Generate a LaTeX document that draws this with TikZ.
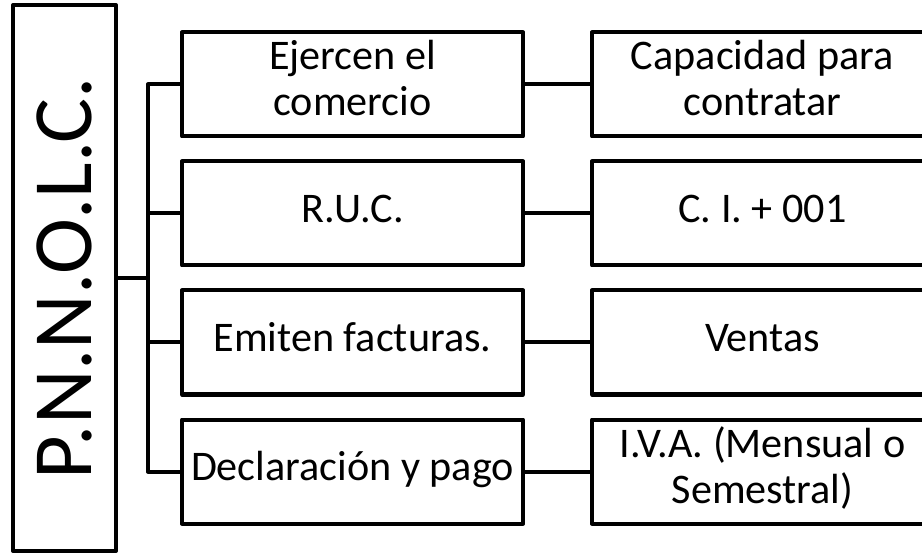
\documentclass[tikz,border=0pt]{standalone}
\usepackage{fontspec}
\setmainfont{Carlito}
\usepackage{tikz}
\usetikzlibrary{shapes.geometric, arrows}
\tikzstyle{recNode} = [rectangle, minimum width=8.525cm, minimum height=2.6cm, align=center, line join=round, line width=0.1cm, draw=black, font=\fontsize{30}{32.7}\selectfont, execute at begin node=\strut, execute at end node=\strut]
\tikzstyle{sideNode} = [rectangle, minimum width=2.575cm, minimum height=13.65cm, line join=round, line width=0.1cm, draw=black, font=\fontsize{60}{64}\selectfont]
\tikzstyle{link} = [line width=0.1cm, line join=round, draw=black]

\begin{document}
\begin{tikzpicture}[node distance=3.225cm]
        \node (pnnolc) [sideNode] at (0,0) {\rotatebox{90}{P.N.N.O.L.C.}};
        \useasboundingbox (pnnolc.center) ++(-1.6125,6.95) rectangle ++(23.05,-13.75);
        \node (ejercen) [recNode, right of=pnnolc, xshift=3.975cm, yshift=4.8375cm] {Ejercen el\\comercio};
        \node (ruc) [recNode, below of=ejercen] {R.U.C.};
        \node (emiten) [recNode, below of=ruc] {Emiten facturas.};
        \node (declara) [recNode, below of=emiten] {Declaración y pago};
        \node (capacidad) [recNode, right of=ejercen, xshift=7.025cm] {Capacidad para\\contratar};
        \node (cedula) [recNode, below of=capacidad] {C. I. + 001};
        \node (ventas) [recNode, below of=cedula] {Ventas};
        \node (iva) [recNode, below of=ventas] {I.V.A. (Mensual o\\Semestral)};
        
        \draw [link] (pnnolc.east) -- ++(0.75,0) coordinate (hub);
        \draw [link] (ejercen.west) -| (hub) |- (declara.west);
        \draw [link] (ruc.west) -- (ruc.west -| hub);
        \draw [link] (emiten.west) -- (emiten.west -| hub);
        
        \draw [link] (ejercen) -- (capacidad);
        \draw [link] (ruc) -- (cedula);
        \draw [link] (emiten) -- (ventas);
        \draw [link] (declara) -- (iva);
    \end{tikzpicture}
\end{document}
